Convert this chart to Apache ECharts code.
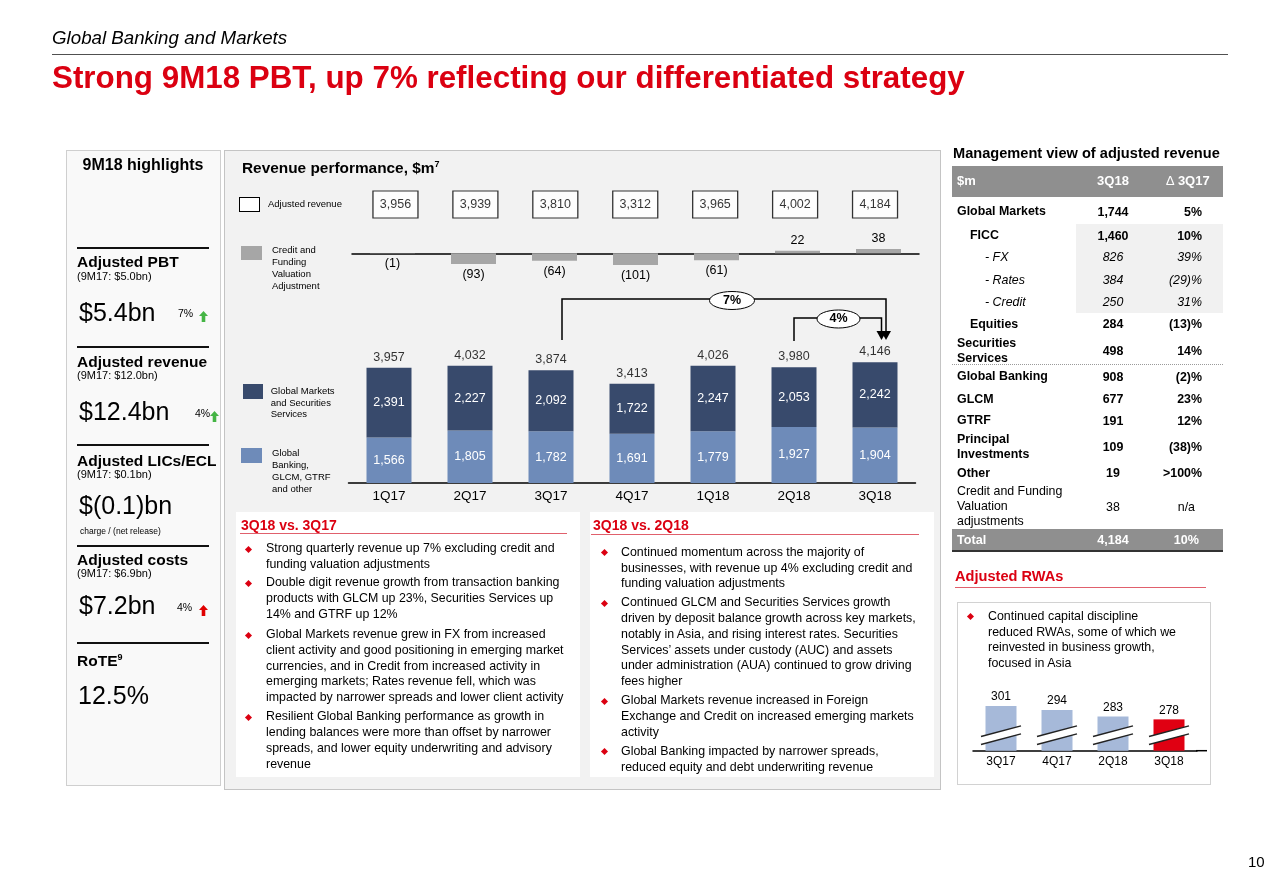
<!DOCTYPE html>
<html><head><meta charset="utf-8">
<script src="https://cdn.jsdelivr.net/npm/echarts@6/dist/echarts.min.js"></script>
<style>
html,body{margin:0;padding:0;background:#fff;}
body{width:1280px;height:895px;position:relative;overflow:hidden;font-family:"Liberation Sans",Arial,Helvetica,sans-serif;color:#000;}
.a{position:absolute;box-sizing:border-box;}
.t{position:absolute;white-space:nowrap;}
#chart{position:absolute;left:0;top:0;width:1280px;height:895px;z-index:1;}
#txt{position:absolute;left:0;top:0;width:1280px;height:895px;z-index:2;}
</style></head>
<body>
<div class="a" style="left:52px;top:54px;width:1176px;height:1px;background:#505050"></div>
<div class="a" style="left:66px;top:150px;width:155px;height:636px;background:#f9f9f9;border:1px solid #cfcfcf"></div>
<div class="a" style="left:224px;top:150px;width:717px;height:640px;background:#f2f2f2;border:1px solid #c4c4c4"></div>
<div class="a" style="left:236px;top:512px;width:344px;height:265px;background:#fff"></div>
<div class="a" style="left:590px;top:512px;width:344px;height:265px;background:#fff"></div>
<div class="a" style="left:952px;top:166px;width:271px;height:31px;background:#8f8f8f"></div>
<div class="a" style="left:1076px;top:224px;width:147px;height:89px;background:#f1f1f1"></div>
<div class="a" style="left:952px;top:364px;width:271px;height:1px;border-top:1px dotted #9a9a9a"></div>
<div class="a" style="left:952px;top:529px;width:271px;height:21px;background:#8f8f8f"></div>
<div class="a" style="left:952px;top:550px;width:271px;height:2px;background:#333"></div>
<div class="a" style="left:957px;top:602px;width:254px;height:183px;background:#fff;border:1px solid #d2d2d2"></div>
<div id="chart"></div>
<div id="txt"></div>
<script>
// ---------------- data ----------------
const quarters = ['1Q17','2Q17','3Q17','4Q17','1Q18','2Q18','3Q18'];
const adjustedRevenue = [3956,3939,3810,3312,3965,4002,4184];
const creditFundingVA = [-1,-93,-64,-101,-61,22,38];
const gbGlcmGtrfOther = [1566,1805,1782,1691,1779,1927,1904];
const gmSecServices = [2391,2227,2092,1722,2247,2053,2242];
const revenueExCVA = [3957,4032,3874,3413,4026,3980,4146];
const rwaQuarters = ['3Q17','4Q17','2Q18','3Q18'];
const rwaValues = [301,294,283,278];

const tableLabels = ['Global Markets','FICC','- FX','- Rates','- Credit','Equities','Securities<br>Services','Global Banking','GLCM','GTRF','Principal<br>Investments','Other','Credit and Funding<br>Valuation<br>adjustments'];
const table3Q18 = ['1,744','1,460','826','384','250','284','498','908','677','191','109','19','38'];
const tableDelta = ['5%','10%','39%','(29)%','31%','(13)%','14%','(2)%','23%','12%','(38)%','>100%','n/a'];
const tableTotal = ['Total','4,184','10%'];

// ---------------- text helpers ----------------
const box = document.getElementById('txt');
function T(x, cy, html, o) {
  o = o || {};
  const fs = o.fs || 12.4;
  const lh = o.lh || fs * 1.15;
  const d = document.createElement('div');
  d.className = 't';
  d.style.left = x + 'px';
  d.style.top = (cy - lh / 2) + 'px';
  d.style.fontSize = fs + 'px';
  d.style.lineHeight = lh + 'px';
  if (o.b) d.style.fontWeight = 'bold';
  if (o.i) d.style.fontStyle = 'italic';
  if (o.c) d.style.color = o.c;
  if (o.al === 'c') d.style.transform = 'translateX(-50%)';
  if (o.al === 'r') d.style.transform = 'translateX(-100%)';
  d.innerHTML = html;
  box.appendChild(d);
  if (o.fitW) {
    const w = d.offsetWidth;
    d.style.transformOrigin = 'left center';
    d.style.transform = 'scaleX(' + (o.fitW / w) + ')';
  }
  return d;
}
function R(x, y, w, h, bg, extra) {
  const d = document.createElement('div');
  d.className = 'a';
  d.style.cssText = 'left:' + x + 'px;top:' + y + 'px;width:' + w + 'px;height:' + h + 'px;background:' + bg + ';' + (extra || '');
  box.appendChild(d);
}
function bullet(x, cy) {
  R(x - 2.5, cy - 2.5, 5, 5, '#db0011', 'transform:rotate(45deg)');
}
function arrow(x, cy, col) {
  const d = document.createElement('div');
  d.className = 'a';
  d.style.cssText = 'left:' + x + 'px;top:' + (cy - 5.5) + 'px;width:9px;height:11px;';
  d.innerHTML = '<svg width="9" height="11"><polygon points="4.5,0 9,5 6.3,5 6.3,11 2.7,11 2.7,5 0,5" fill="' + col + '"/></svg>';
  box.appendChild(d);
}

// header
T(52, 38.5, 'Global Banking and Markets', {fs:18, i:1, fitW:235});
T(52, 77, 'Strong 9M18 PBT, up 7% reflecting our differentiated strategy', {fs:32, b:1, c:'#db0011', fitW:913});
T(1248, 862, '10', {fs:15});

// left panel
T(143, 165, '9M18 highlights', {fs:16, b:1, al:'c'});
[248, 347, 445, 546, 643].forEach(y => R(77, y - 1, 132, 2, '#111'));
T(77, 262.3, 'Adjusted PBT', {fs:15.5, b:1});
T(77, 276.5, '(9M17: $5.0bn)', {fs:11});
T(79, 312.3, '$5.4bn', {fs:25});
T(178, 313, '7%', {fs:10.5}); arrow(199, 313, '#45b545');
T(77, 362, 'Adjusted revenue', {fs:15.5, b:1});
T(77, 375.5, '(9M17: $12.0bn)', {fs:11});
T(79, 411.7, '$12.4bn', {fs:25});
T(195, 413, '4%', {fs:10.5}); arrow(210, 413, '#45b545');
T(77, 460.5, 'Adjusted LICs/ECL', {fs:15.5, b:1});
T(77, 474.5, '(9M17: $0.1bn)', {fs:11});
T(79, 505, '$(0.1)bn', {fs:25});
T(80, 531.7, 'charge / (net release)', {fs:8.5});
T(77, 560, 'Adjusted costs', {fs:15.5, b:1});
T(77, 573.5, '(9M17: $6.9bn)', {fs:11});
T(79, 605.7, '$7.2bn', {fs:25});
T(177, 607, '4%', {fs:10.5}); arrow(199, 607, '#e00000');
T(77, 658.3, 'RoTE<span style="font-size:9px;vertical-align:6px">9</span>', {fs:15.5, b:1});
T(78, 695, '12.5%', {fs:25});

// middle panel headings & legend
T(242, 165, 'Revenue performance, $m<span style="font-size:9px;vertical-align:6px">7</span>', {fs:15.4, b:1});
R(239, 197, 21, 15, '#fff', 'border:1px solid #000');
T(268, 204.3, 'Adjusted revenue', {fs:9.5});
R(241, 246, 21, 14, '#a6a6a6');
T(272, 250, 'Credit and<br>Funding<br>Valuation<br>Adjustment', {fs:9.5, lh:12});
R(243, 384, 20, 15, '#384a6c');
T(270.7, 391, 'Global Markets<br>and Securities<br>Services', {fs:9.5, lh:11.6});
R(241, 448, 21, 15, '#6e8bb9');
T(272, 453.3, 'Global<br>Banking,<br>GLCM, GTRF<br>and other', {fs:9.5, lh:11.7});

// commentary boxes
T(241, 525, '3Q18 vs. 3Q17', {fs:14, b:1, c:'#db0011'});
R(240, 532.5, 327, 1, '#e0606c');
const LH = 15.7;
bullet(248, 549.3); T(266, 549.3, 'Strong quarterly revenue up 7% excluding credit and<br>funding valuation adjustments', {lh:LH});
bullet(248, 583.3); T(266, 583.3, 'Double digit revenue growth from transaction banking<br>products with GLCM up 23%, Securities Services up<br>14% and GTRF up 12%', {lh:LH});
bullet(248, 635); T(266, 635, 'Global Markets revenue grew in FX from increased<br>client activity and good positioning in emerging market<br>currencies, and in Credit from increased activity in<br>emerging markets; Rates revenue fell, which was<br>impacted by narrower spreads and lower client activity', {lh:LH});
bullet(248, 717.3); T(266, 717.3, 'Resilient Global Banking performance as growth in<br>lending balances were more than offset by narrower<br>spreads, and lower equity underwriting and advisory<br>revenue', {lh:LH});

T(593, 525, '3Q18 vs. 2Q18', {fs:14, b:1, c:'#db0011'});
R(591, 533.5, 328, 1, '#e0606c');
bullet(604, 552.7); T(621, 552.7, 'Continued momentum across the majority of<br>businesses, with revenue up 4% excluding credit and<br>funding valuation adjustments', {lh:LH});
bullet(604, 603.3); T(621, 603.3, 'Continued GLCM and Securities Services growth<br>driven by deposit balance growth across key markets,<br>notably in Asia, and rising interest rates. Securities<br>Services\u2019 assets under custody (AUC) and assets<br>under administration (AUA) continued to grow driving<br>fees higher', {lh:LH});
bullet(604, 701); T(621, 701, 'Global Markets revenue increased in Foreign<br>Exchange and Credit on increased emerging markets<br>activity', {lh:LH});
bullet(604, 751.7); T(621, 751.7, 'Global Banking impacted by narrower spreads,<br>reduced equity and debt underwriting revenue', {lh:LH});

// management table
T(953, 153.3, 'Management view of adjusted revenue', {fs:14.6, b:1});
T(957, 181.5, '$m', {fs:13, b:1, c:'#fff'});
T(1113, 181.5, '3Q18', {fs:13, b:1, c:'#fff', al:'c'});
T(1188, 181.5, '<span style="font-weight:normal">\u2206</span> 3Q17', {fs:13, b:1, c:'#fff', al:'c'});
const rowCy = [211.7, 235.7, 257.3, 280, 302.3, 324.3, 350.7, 376.7, 399.3, 420.7, 447.3, 473.3, 506.7];
const rowX = [957, 970, 985, 985, 985, 970, 957, 957, 957, 957, 957, 957, 957];
const rowStyle = ['b','b','i','i','i','b','b','b','b','b','b','b','n'];
tableLabels.forEach((lab, i) => {
  const n = lab.split('<br>').length;
  const st = rowStyle[i];
  const o = {fs:12.4, b: st === 'b', i: st === 'i'};
  T(rowX[i], rowCy[i] - (n - 1) * 15 / 2, lab, Object.assign({lh:15}, o));
  T(1113, rowCy[i], table3Q18[i], Object.assign({al:'c'}, o));
  T(i === 12 ? 1195 : 1202, rowCy[i], tableDelta[i], Object.assign({al:'r'}, o));
});
T(957, 540, tableTotal[0], {fs:12.6, b:1, c:'#fff'});
T(1113, 540, tableTotal[1], {fs:12.6, b:1, c:'#fff', al:'c'});
T(1199, 540, tableTotal[2], {fs:12.6, b:1, c:'#fff', al:'r'});

T(955, 576.7, 'Adjusted RWAs', {fs:14.6, b:1, c:'#db0011'});
R(955, 586.5, 251, 1, '#e0606c');
bullet(970, 616.7);
T(988, 616.7, 'Continued capital discipline<br>reduced RWAs, some of which we<br>reinvested in business growth,<br>focused in Asia', {lh:15.8});

// ---------------- chart ----------------
const FONT = '"Liberation Sans", Arial, sans-serif';
const fmt = v => Number(v).toLocaleString('en-US');
const LIGHT = '#6e8bb9', DARK = '#384a6c', GREY = '#a6a6a6';
const chart = echarts.init(document.getElementById('chart'), null, {renderer:'canvas'});
const option = {
  backgroundColor: 'transparent',
  animation: false,
  textStyle: {fontFamily: FONT},
  grid: [
    {left:348.5, width:567, top:337.5, height:145.5},
    {left:352, width:567, top:230.3, height:46},
    {left:355.5, width:559.5, top:200, height:9},
    {left:973, width:224, top:695, height:55.7}
  ],
  xAxis: [
    {type:'category', gridIndex:0, data:quarters, axisLine:{lineStyle:{color:'#000', width:1.5}}, axisTick:{show:false}, axisLabel:{color:'#000', fontSize:13.5, margin:6}},
    {type:'category', gridIndex:1, data:quarters, axisLine:{onZero:true, lineStyle:{color:'#000', width:1.5}}, axisTick:{show:false}, axisLabel:{show:false}},
    {type:'category', gridIndex:2, data:quarters, show:false},
    {type:'category', gridIndex:3, data:rwaQuarters, axisLine:{lineStyle:{color:'#000', width:1.5}}, axisTick:{show:false}, axisLabel:{color:'#000', fontSize:12, margin:5}}
  ],
  yAxis: [
    {type:'value', gridIndex:0, min:0, max:5000, show:false},
    {type:'value', gridIndex:1, min:-200, max:200, show:false},
    {type:'value', gridIndex:2, min:-1, max:1, show:false},
    {type:'value', gridIndex:3, min:224, max:320, show:false}
  ],
  series: [
    {type:'bar', name:'Global Banking, GLCM, GTRF and other', xAxisIndex:0, yAxisIndex:0, stack:'rev', barWidth:45, data:gbGlcmGtrfOther,
     itemStyle:{color:LIGHT}, label:{show:true, position:'inside', color:'#fff', fontSize:12.5, formatter:p => fmt(p.value)}},
    {type:'bar', name:'Global Markets and Securities Services', xAxisIndex:0, yAxisIndex:0, stack:'rev', barWidth:45, data:gmSecServices,
     itemStyle:{color:DARK}, label:{show:true, position:'inside', color:'#fff', fontSize:12.5, formatter:p => fmt(p.value)}},
    {type:'scatter', name:'Revenue excl. CVA', xAxisIndex:0, yAxisIndex:0, data:revenueExCVA, symbolSize:0.1, clip:false,
     itemStyle:{color:'rgba(0,0,0,0)'}, label:{show:true, position:'top', distance:4, color:'#000', fontSize:12.5, formatter:p => fmt(p.value)}},
    {type:'bar', name:'Credit and Funding Valuation Adjustment', xAxisIndex:1, yAxisIndex:1, barWidth:45,
     data: creditFundingVA.map(v => ({value:v, label:{position: v < 0 ? 'bottom' : 'top'}})),
     itemStyle:{color:GREY}, label:{show:true, distance:4, color:'#000', fontSize:12.5, formatter:p => p.value < 0 ? '(' + fmt(-p.value) + ')' : fmt(p.value)}},
    {type:'scatter', name:'Adjusted revenue', xAxisIndex:2, yAxisIndex:2, clip:false, symbol:'rect', symbolSize:[45,27],
     data: adjustedRevenue.map((v, i) => [quarters[i], 0, v]),
     itemStyle:{color:'#fff', borderColor:'#000', borderWidth:1},
     label:{show:true, position:'inside', color:'#000', fontSize:12.5, formatter:p => fmt(p.value[2])}},
    {type:'bar', name:'Adjusted RWAs', xAxisIndex:3, yAxisIndex:3, barWidth:31,
     data: rwaValues.map((v, i) => ({value:v, itemStyle:{color: i === rwaValues.length - 1 ? '#e00012' : '#a6b9d9'}})),
     label:{show:true, position:'top', distance:3, color:'#000', fontSize:12}},
    {type:'custom', name:'axis break', xAxisIndex:3, yAxisIndex:3, z:5,
     data: rwaQuarters.map((q, i) => [i]),
     encode:{x:0},
     renderItem: (params, api) => {
       const base = api.coord([api.value(0), 224]);
       const cx = base[0], cy = base[1] - 15.5, hw = 20, k = 5.35, g = 4;
       return {type:'group', children:[
         {type:'polygon', shape:{points:[[cx-hw, cy+g+k],[cx+hw, cy+g-k],[cx+hw, cy-g-k],[cx-hw, cy-g+k]]}, style:{fill:'#fff'}},
         {type:'line', shape:{x1:cx-hw, y1:cy-g+k, x2:cx+hw, y2:cy-g-k}, style:{stroke:'#222', lineWidth:1.5}},
         {type:'line', shape:{x1:cx-hw, y1:cy+g+k, x2:cx+hw, y2:cy+g-k}, style:{stroke:'#222', lineWidth:1.5}}
       ]};
     }}
  ]
};
chart.setOption(option);

// growth brackets positioned from the category axis
const px = i => chart.convertToPixel({xAxisIndex:0, yAxisIndex:0}, [i, 0])[0];
const c2 = px(2), c4 = px(4), c5 = px(5), c6 = px(6);
const ln = pts => ({type:'polyline', shape:{points:pts}, style:{stroke:'#000', lineWidth:1.5, fill:null}, z:10});
const tri = x => ({type:'polygon', shape:{points:[[x-5,331],[x+5,331],[x,340]]}, style:{fill:'#000'}, z:10});
const ell = (x, y, rx, ry, t) => [
  {type:'ellipse', shape:{cx:x, cy:y, rx:rx, ry:ry}, style:{fill:'#fff', stroke:'#000', lineWidth:1}, z:11},
  {type:'text', x:x, y:y, style:{text:t, align:'center', verticalAlign:'middle', font:'bold 12.5px ' + FONT, fill:'#000'}, z:12}
];
const rwaBase = chart.convertToPixel({xAxisIndex:3, yAxisIndex:3}, [0, 224])[1];
chart.setOption({graphic: [
  ln([[c2+11, 340],[c2+11, 299],[c6+11, 299],[c6+11, 332]]),
  ln([[c5, 341],[c5, 318],[c6+6.5, 318],[c6+6.5, 332]]),
  tri(c6+11), tri(c6+6.5),
  ...ell(c4+19, 300.5, 22.5, 9, '7%'),
  ...ell((c5+c6)/2+4, 319, 21.5, 9, '4%'),
  {type:'line', shape:{x1:1196, y1:rwaBase, x2:1207, y2:rwaBase}, style:{stroke:'#000', lineWidth:1.5}}
]});
</script>
</body></html>
